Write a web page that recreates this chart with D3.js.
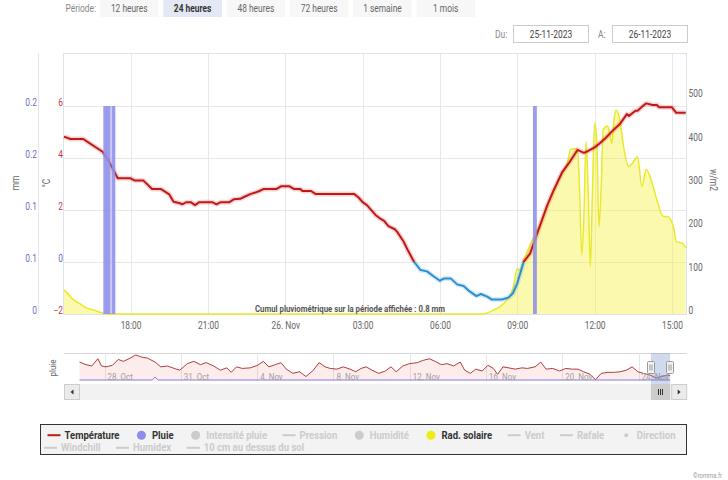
<!DOCTYPE html>
<html><head><meta charset="utf-8">
<script src="https://cdn.jsdelivr.net/npm/d3@7"></script>
<style>
body{margin:0;background:#fff;}
svg text{font-family:Roboto,"Open Sans",sans-serif;}
</style></head><body>
<svg id="c" width="728" height="480"></svg>
<script>
// ---------------- data ----------------
const periodButtons = ["12 heures","24 heures","48 heures","72 heures","1 semaine","1 mois"];
const selectedPeriod = "24 heures";
const dateFrom = "25-11-2023", dateTo = "26-11-2023";
const xStart = "25 15:25", xEnd = "26 15:35";

const tempTimes = ["25 15:25","25 15:40","25 16:10","25 16:25","25 16:55","25 17:10","25 17:30","25 18:00","25 18:10","25 18:30","25 18:50","25 19:10","25 19:30","25 19:40","25 19:55","25 20:00","25 20:10","25 20:20","25 20:30","25 20:40","25 21:10","25 21:20","25 21:30","25 21:50","25 22:00","25 22:15","25 22:25","25 22:40","25 22:50","25 23:00","25 23:10","25 23:40","25 23:50","26 00:10","26 00:20","26 00:35","26 00:40","26 01:00","26 01:10","26 02:40","26 02:50","26 03:00","26 03:10","26 03:30","26 03:40","26 03:50","26 04:00","26 04:15","26 04:20","26 04:35","26 04:45","26 05:00","26 05:15","26 05:30","26 05:45","26 06:00","26 06:10","26 06:25","26 06:40","26 06:55","26 07:10","26 07:25","26 07:35","26 07:50","26 08:00","26 08:25","26 08:40","26 08:50","26 09:00","26 09:15","26 09:30","26 09:45","26 10:10","26 10:25","26 10:45","26 11:00","26 11:20","26 11:35","26 11:45","26 12:00","26 12:10","26 12:25","26 12:45","26 13:00","26 13:15","26 13:20","26 13:35","26 13:40","26 13:50","26 14:00","26 14:15","26 14:25","26 14:30","26 15:00","26 15:10","26 15:32"];
const tempValues = [4.82,4.73,4.73,4.56,4.24,3.86,3.22,3.22,3.13,3.13,2.81,2.81,2.6,2.32,2.26,2.22,2.3,2.3,2.19,2.3,2.3,2.22,2.3,2.3,2.41,2.43,2.51,2.62,2.67,2.73,2.81,2.81,2.91,2.91,2.81,2.81,2.73,2.73,2.62,2.62,2.49,2.3,2.19,1.81,1.68,1.58,1.38,1.26,1.17,0.8,0.46,0.0,-0.31,-0.36,-0.55,-0.72,-0.63,-0.63,-0.86,-0.92,-1.14,-1.31,-1.23,-1.33,-1.44,-1.44,-1.36,-1.2,-0.82,0.01,0.33,1.04,2.19,2.77,3.47,3.8,4.31,4.2,4.27,4.41,4.54,4.76,5.1,5.33,5.69,5.62,5.82,5.82,5.97,6.1,6.04,6.04,5.95,5.95,5.74,5.74];

const radTimes = ["25 15:25","25 15:30","25 15:40","25 15:50","25 16:00","25 16:20","25 16:35","25 16:55","25 17:05","26 07:40","26 08:05","26 08:20","26 08:35","26 08:50","26 09:00","26 09:05","26 09:15","26 09:25","26 09:35","26 09:55","26 10:10","26 10:25","26 10:40","26 10:55","26 11:05","26 11:20","26 11:25","26 11:30","26 11:35","26 11:40","26 11:45","26 11:50","26 11:55","26 12:00","26 12:05","26 12:10","26 12:15","26 12:20","26 12:30","26 12:35","26 12:40","26 12:45","26 12:50","26 13:00","26 13:05","26 13:20","26 13:30","26 13:40","26 13:50","26 14:00","26 14:15","26 14:25","26 14:40","26 14:50","26 15:05","26 15:10","26 15:25","26 15:32"];
const radValues = [55,51,40,31,25,13,9,2,0,0,9,17,32,59,105,101,125,148,171,213,252,286,317,344,380,382,286,136,225,398,286,109,286,440,402,201,286,426,434,417,394,448,471,440,402,340,351,363,294,334,298,263,225,225,194,167,163,152];

const rainTimes = ["25 17:01","25 17:09","25 17:20","26 09:41"];
const rainValues = [0.2,0.2,0.2,0.2];
const rainBarMinutes = 9;

const tempTicks = [-2,0,2,4,6];
const rainTicks = [0,0.05,0.1,0.15,0.2];
const rainTickLabels = ["0","0.1","0.1","0.2","0.2"];
const radTicks = [0,100,200,300,400,500];

// navigator (1 month)
const navBase = "2023-10-28 00:00";
const navStart = "2023-10-25 21:00", navEnd = "2023-11-27 12:30";
const navDays = [-1.31,-0.97,-0.67,-0.35,-0.16,0.07,0.42,0.72,0.99,1.34,1.64,1.96,2.26,2.65,2.95,3.30,3.65,3.94,4.34,4.68,5.03,5.33,5.72,6.07,6.41,6.64,6.92,7.22,7.64,8.03,8.33,8.61,8.95,9.25,9.53,9.87,10.22,10.56,10.95,11.25,11.56,11.83,12.18,12.52,12.87,13.17,13.45,13.72,14.02,14.37,14.72,15.02,15.29,15.64,15.99,16.40,16.68,17.03,17.33,17.66,17.96,18.30,18.65,18.88,19.18,19.46,19.80,20.10,20.38,20.61,20.89,21.19,21.53,21.88,22.18,22.57,22.87,23.15,23.50,23.85,24.19,24.54,24.82,25.12,25.46,25.74,26.04,26.39,26.73,27.03,27.36,27.66,27.96,28.24,28.59,28.93,29.21,29.51,29.65];
const navTemps = [11.1,9.3,8.4,13.4,8.4,7.8,8.9,12.9,11.6,13.8,16.0,14.5,13.8,11.1,7.8,8.4,6.7,5.5,10.0,11.6,9.3,10.7,8.4,5.5,7.1,4.0,7.8,6.7,7.1,8.9,11.6,7.8,9.3,10.7,6.2,3.3,4.4,1.1,5.5,10.7,7.8,6.7,6.2,7.8,6.2,4.4,6.7,7.8,5.5,3.3,4.9,7.8,4.4,8.4,10.0,10.7,12.2,13.4,11.6,9.3,10.0,8.4,11.1,5.5,3.3,6.2,4.9,8.9,6.7,2.6,7.8,7.1,6.2,7.1,6.7,7.8,11.1,6.2,6.7,4.9,6.7,6.2,6.2,4.4,2.6,-1.2,3.3,4.0,4.0,4.4,5.5,7.8,4.4,3.3,2.2,0.0,1.1,2.2,1.7];
const navRainDays = [-1.31,2.5,2.65,2.8,29.65];
const navRainValues = [0,0,0.6,0,0];
const navTickDates = ["2023-10-28 00:00","2023-11-01 00:00","2023-11-05 00:00","2023-11-09 00:00","2023-11-13 00:00","2023-11-17 00:00","2023-11-21 00:00","2023-11-25 00:00"];
const navTickLabels = ["28. Oct","31. Oct","4. Nov","8. Nov","12. Nov","16. Nov","20. Nov","24. Nov"];

const legendNames = ["Température","Pluie","Intensité pluie","Pression","Humidité","Rad. solaire","Vent","Rafale","Direction","Windchill","Humidex","10 cm au dessus du sol"];
const legendSymbols = ["line","circle","circle","line","circle","circle","line","line","dot","line","line","line"];
const legendActive = [true,true,false,false,false,true,false,false,false,false,false,false];

// ---------------- styles ----------------
const C = {temp:"#c41818", cold:"#2a8fd4", rain:"#8e8eea", rad:"#e9e92c", radFill:"rgba(245,240,60,0.42)",
  grid:"#e8e8e8", axis:"#dde3ec", text:"#666", inactive:"#cccccc"};
const SX = 0.84;

const svg = d3.select("#c");
const pTime = d3.timeParse("%Y-%m-%d %H:%M");
const P = s => pTime("2023-11-" + s);

function label(g, x, y, s, o = {}) {
  return g.append("text")
    .attr("transform", `translate(${x},${y}) rotate(${o.rotate || 0}) scale(${o.sx || SX},1)`)
    .attr("text-anchor", o.anchor || "start")
    .attr("dy", "0.35em")
    .style("font-size", (o.size || 10) + "px")
    .style("font-weight", o.weight || "normal")
    .attr("fill", o.fill || C.text)
    .text(s);
}

// ---------------- header ----------------
label(svg, 96, 8.5, "Période:", {anchor: "end", fill: "#888"});
const bx = d3.scaleBand().domain(periodButtons).range([100, 475]).paddingInner(0.075);
periodButtons.forEach(b => {
  const sel = b === selectedPeriod;
  svg.append("rect").attr("x", bx(b)).attr("y", 0).attr("width", bx.bandwidth()).attr("height", 17)
    .attr("fill", sel ? "#e3e8f4" : "#f7f7f7");
  label(svg, bx(b) + bx.bandwidth() / 2, 8, b, {anchor: "middle", fill: sel ? "#333" : "#666", weight: sel ? "bold" : "normal"});
});
label(svg, 495, 34, "Du:", {fill: "#888"});
svg.append("rect").attr("x", 513.5).attr("y", 25.5).attr("width", 75).attr("height", 17).attr("fill", "#fff").attr("stroke", "#ccc");
label(svg, 551, 34, dateFrom, {anchor: "middle", fill: "#444"});
label(svg, 598, 34, "A:", {fill: "#888"});
svg.append("rect").attr("x", 612.5).attr("y", 25.5).attr("width", 75).attr("height", 17).attr("fill", "#fff").attr("stroke", "#ccc");
label(svg, 650, 34, dateTo, {anchor: "middle", fill: "#444"});

// ---------------- main chart ----------------
const L = 64, R = 687, TOP = 54, BOT = 314;
const x = d3.scaleTime().domain([P(xStart), P(xEnd)]).range([L, R]);
const yT = d3.scaleLinear().domain([-2, 8]).range([BOT, TOP]);
const yR = d3.scaleLinear().domain([0, 0.25]).range([BOT, TOP]);
const yW = d3.scaleLinear().domain([0, 600]).range([BOT, TOP]);

const temp = tempTimes.map((t, i) => ({t: P(t), v: tempValues[i]}));
const rad = radTimes.map((t, i) => ({t: P(t), v: radValues[i]}));
const rain = rainTimes.map((t, i) => ({t: P(t), v: rainValues[i]}));

const xTicks = x.ticks(d3.timeHour.every(3));
const gGrid = svg.append("g");
gGrid.selectAll("line.h").data(tempTicks).join("line")
  .attr("x1", L).attr("x2", R).attr("y1", d => yT(d) + 0.5).attr("y2", d => yT(d) + 0.5).attr("stroke", C.grid);
gGrid.selectAll("line.v").data(xTicks).join("line")
  .attr("x1", d => Math.round(x(d)) + 0.5).attr("x2", d => Math.round(x(d)) + 0.5).attr("y1", TOP).attr("y2", BOT).attr("stroke", C.grid);
svg.append("rect").attr("x", L - 0.5).attr("y", TOP - 0.5).attr("width", R - L).attr("height", BOT - TOP + 1)
  .attr("fill", "none").attr("stroke", C.axis);
svg.append("line").attr("x1", 38.5).attr("x2", 38.5).attr("y1", TOP - 1).attr("y2", BOT + 1).attr("stroke", "#e3e7ef");

// radiation
svg.append("path").datum(rad).attr("fill", C.radFill)
  .attr("d", d3.area().x(d => x(d.t)).y0(BOT).y1(d => yW(d.v)).curve(d3.curveMonotoneX));
svg.append("path").datum(rad).attr("fill", "none").attr("stroke", C.rad).attr("stroke-width", 1.5)
  .attr("d", d3.line().x(d => x(d.t)).y(d => yW(d.v)).curve(d3.curveMonotoneX));

// temperature with zones
const defs = svg.append("defs");
defs.append("clipPath").attr("id", "warm").append("rect").attr("x", 0).attr("y", 0).attr("width", 728).attr("height", yT(0));
defs.append("clipPath").attr("id", "cold").append("rect").attr("x", 0).attr("y", yT(0)).attr("width", 728).attr("height", 480 - yT(0));
const tLine = d3.line().x(d => x(d.t)).y(d => yT(d.v));
[["warm", C.temp], ["cold", C.cold]].forEach(([id, col]) => {
  const g = svg.append("g").attr("clip-path", `url(#${id})`);
  g.append("path").datum(temp).attr("fill", "none").attr("stroke", col).attr("stroke-opacity", 0.18).attr("stroke-width", 5).attr("stroke-linejoin", "round").attr("d", tLine);
  g.append("path").datum(temp).attr("fill", "none").attr("stroke", col).attr("stroke-width", 2).attr("stroke-linejoin", "round").attr("d", tLine);
});

// rain bars
const half = rainBarMinutes / 2 * 60000;
svg.append("g").selectAll("rect").data(rain).join("rect")
  .attr("x", d => x(new Date(+d.t - half)))
  .attr("width", d => x(new Date(+d.t + half)) - x(new Date(+d.t - half)))
  .attr("y", d => yR(d.v)).attr("height", d => BOT - yR(d.v))
  .attr("fill", C.rain).attr("fill-opacity", 0.88);

// axes
const AX = 10;
function styleAxis(g) { g.select(".domain").remove(); g.selectAll("text").style("font-family", null).attr("font-size", AX); }
const fmtTick = d => d.getHours() === 0 ? d3.timeFormat("%-d. %b")(d) : d3.timeFormat("%H:%M")(d);
const gx = svg.append("g").attr("transform", `translate(0,${BOT})`)
  .call(d3.axisBottom(x).tickValues(xTicks).tickSize(0).tickFormat(fmtTick));
styleAxis(gx);
gx.selectAll("text").attr("y", 12).attr("dy", "0.35em").attr("fill", C.text).attr("transform", `scale(${SX},1)`);

const gT = svg.append("g").attr("transform", "translate(63,0)")
  .call(d3.axisLeft(yT).tickValues(tempTicks).tickSize(0).tickPadding(0));
styleAxis(gT);
gT.selectAll("text").attr("y", -4).attr("dy", "0.35em").attr("transform", `scale(${SX},1)`)
  .attr("fill", d => d === 0 ? "#6d70c6" : "#c33a3a");

const gRn = svg.append("g").attr("transform", "translate(37,0)")
  .call(d3.axisLeft(yR).tickValues(rainTicks).tickSize(0).tickPadding(0).tickFormat((d, i) => rainTickLabels[i]));
styleAxis(gRn);
gRn.selectAll("text").attr("y", -4).attr("dy", "0.35em").attr("transform", `scale(${SX},1)`).attr("fill", "#6d70c6");

const gW = svg.append("g").attr("transform", "translate(688.5,0)")
  .call(d3.axisRight(yW).tickValues(radTicks).tickSize(0).tickPadding(0));
styleAxis(gW);
gW.selectAll("text").attr("y", -4).attr("dy", "0.35em").attr("transform", `scale(${SX},1)`).attr("fill", C.text);

label(svg, 15, 183, "mm", {rotate: -90, anchor: "middle"});
label(svg, 46, 183, "°C", {rotate: -90, anchor: "middle"});
label(svg, 714, 180, "w/m2", {rotate: 90, anchor: "middle"});

label(svg, 350, 308.5, "Cumul pluviométrique sur la période affichée : " + d3.sum(rainValues).toFixed(1) + " mm",
  {anchor: "middle", weight: "bold", size: 9.3, fill: "#555"});

// ---------------- navigator ----------------
const NT = 353, NB = 381;
const base = pTime(navBase);
const nx = d3.scaleTime().domain([pTime(navStart), pTime(navEnd)]).range([64, 686.7]);
const ny = d3.scaleLinear().domain([-2, 16]).range([NB, 355]);
const nyR = d3.scaleLinear().domain([0, 5]).range([NB - 1, 355]);
const dayDate = d => new Date(+base + d * 864e5);
const nav = navDays.map((d, i) => ({t: dayDate(d), v: navTemps[i]}));
const navRain = navRainDays.map((d, i) => ({t: dayDate(d), v: navRainValues[i]}));

svg.append("line").attr("x1", 64).attr("x2", 686.7).attr("y1", NT + 0.5).attr("y2", NT + 0.5).attr("stroke", "#d8d8d8");
navTickDates.forEach((d, i) => {
  const px = Math.round(nx(pTime(d))) + 0.5;
  svg.append("line").attr("x1", px).attr("x2", px).attr("y1", NT).attr("y2", NB).attr("stroke", "#e6e6e6");
});
svg.append("path").datum(nav).attr("fill", "rgba(240,120,120,0.14)")
  .attr("d", d3.area().x(d => nx(d.t)).y0(NB).y1(d => ny(d.v)));
svg.append("path").datum(nav).attr("fill", "none").attr("stroke", "#b33c3c").attr("stroke-width", 1)
  .attr("d", d3.line().x(d => nx(d.t)).y(d => ny(d.v)));
svg.append("path").datum(navRain).attr("fill", "none").attr("stroke", "#8484e4").attr("stroke-width", 1)
  .attr("d", d3.line().x(d => nx(d.t)).y(d => nyR(d.v)));
navTickDates.forEach((d, i) => {
  label(svg, nx(pTime(d)) + 3, 376.5, navTickLabels[i], {size: 9.5, fill: "#a0a0a0"});
});
label(svg, 53, 368, "pluie", {rotate: -90, anchor: "middle", size: 9.5});

// scrollbar
const SB0 = 384, SB1 = 400;
svg.append("rect").attr("x", 64).attr("y", SB0).attr("width", 622.7).attr("height", SB1 - SB0).attr("fill", "#f2f2f2");
const w0 = nx(P(xStart)), w1 = nx(P(xEnd));
svg.append("rect").attr("x", w0).attr("y", NT).attr("width", w1 - w0).attr("height", SB0 - NT).attr("fill", "rgba(102,133,194,0.3)");
svg.append("rect").attr("x", w0).attr("y", SB0).attr("width", w1 - w0).attr("height", SB1 - SB0).attr("fill", "#cccccc");
[-2, 0, 2].forEach(o => {
  const gx0 = Math.round((w0 + w1) / 2 + o) + 0.5;
  svg.append("line").attr("x1", gx0).attr("x2", gx0).attr("y1", 389).attr("y2", 395).attr("stroke", "#333");
});
[[64, "L"], [686.7 - 15.5, "R"]].forEach(([bx0, dir]) => {
  svg.append("rect").attr("x", bx0 + 0.5).attr("y", SB0 + 0.5).attr("width", 15).attr("height", SB1 - SB0 - 1)
    .attr("fill", "#ebebeb").attr("stroke", "#cccccc");
  const cx = bx0 + 8, cy = (SB0 + SB1) / 2;
  const pts = dir === "L" ? [[cx + 1.5, cy - 2.5], [cx + 1.5, cy + 2.5], [cx - 1.5, cy]] : [[cx - 1.5, cy - 2.5], [cx - 1.5, cy + 2.5], [cx + 1.5, cy]];
  svg.append("path").attr("d", d3.line()(pts) + "Z").attr("fill", "#333");
});
[w0, w1].forEach(hx => {
  svg.append("rect").attr("x", Math.round(hx) - 3.5).attr("y", 361.5).attr("width", 7).attr("height", 12)
    .attr("fill", "#f2f2f2").attr("stroke", "#999").attr("rx", 1);
  [-1, 1].forEach(o => svg.append("line").attr("x1", Math.round(hx) + o).attr("x2", Math.round(hx) + o).attr("y1", 364.5).attr("y2", 370.5).attr("stroke", "#999"));
});

// ---------------- legend ----------------
const LSX = 0.91, LFS = 10.5;
svg.append("rect").attr("x", 40.5).attr("y", 424.5).attr("width", 646).attr("height", 30)
  .attr("fill", "#f3f3f3").attr("stroke", "#333");
const legendColor = i => !legendActive[i] ? C.inactive : (i === 0 ? C.temp : i === 1 ? C.rain : "#eded10");
let cx = 47.5, cy = 435.2;
legendNames.forEach((name, i) => {
  const t = label(svg, 0, 0, name, {size: LFS, weight: "bold", sx: LSX, fill: legendActive[i] ? "#333" : C.inactive});
  const tw = t.node().getComputedTextLength() * LSX;
  if (cx + 17 + tw > 690) { cx = 44; cy += 12.6; }
  t.attr("transform", `translate(${cx + 17},${cy}) scale(${LSX},1)`);
  const col = legendColor(i);
  if (legendSymbols[i] === "line") {
    svg.append("line").attr("x1", cx).attr("x2", cx + 13).attr("y1", cy).attr("y2", cy).attr("stroke", col).attr("stroke-width", 2);
  } else {
    svg.append("circle").attr("cx", cx + 6.5).attr("cy", cy).attr("r", legendSymbols[i] === "dot" ? 2 : 4.5).attr("fill", col);
  }
  cx += 17 + tw + 15.5;
});

label(svg, 722, 476, "©romma.fr", {anchor: "end", size: 7, fill: "#999"});
</script>
</body></html>
